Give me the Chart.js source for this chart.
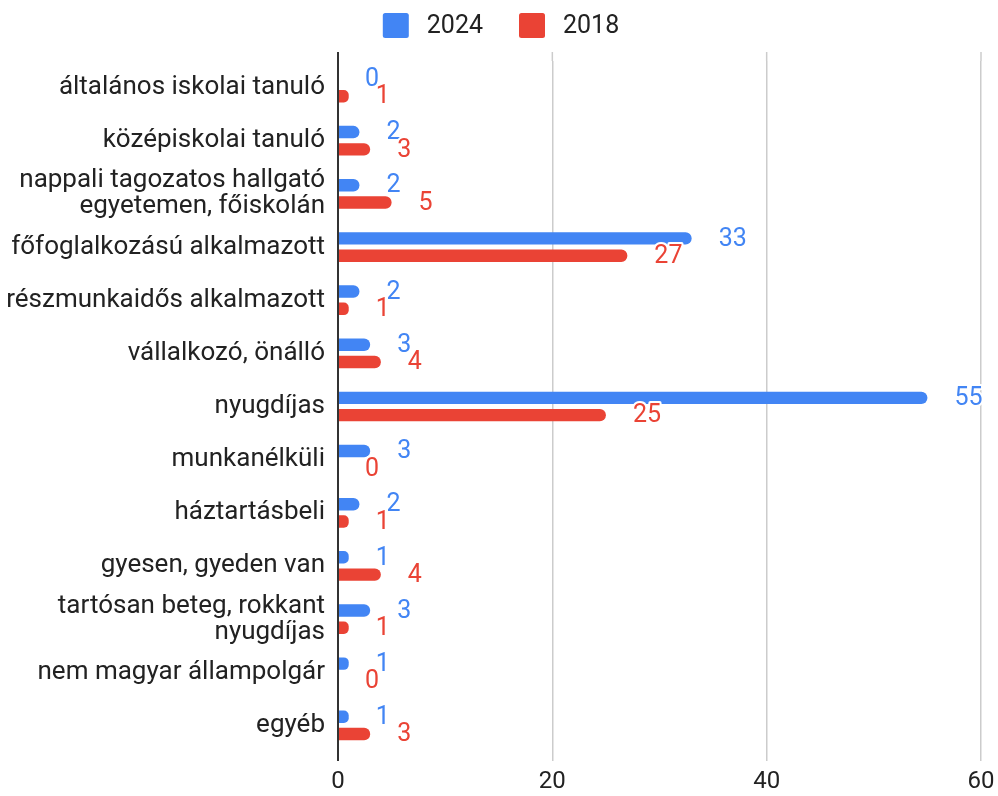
<!DOCTYPE html>
<html>
<head>
<meta charset="utf-8">
<script src="https://cdn.jsdelivr.net/npm/chart.js@4.4.1/dist/chart.umd.min.js"></script>
<style>
html,body{margin:0;padding:0;background:#fff;}
#wrap{width:998px;height:796px;position:relative;}
</style>
</head>
<body>
<div id="wrap"><canvas id="c"></canvas></div>
<script>
const categories = [
  "általános iskolai tanuló",
  "középiskolai tanuló",
  ["nappali tagozatos hallgató", "egyetemen, főiskolán"],
  "főfoglalkozású alkalmazott",
  "részmunkaidős alkalmazott",
  "vállalkozó, önálló",
  "nyugdíjas",
  "munkanélküli",
  "háztartásbeli",
  "gyesen, gyeden van",
  ["tartósan beteg, rokkant", "nyugdíjas"],
  "nem magyar állampolgár",
  "egyéb"
];
const values2024 = [0, 2, 2, 33, 2, 3, 55, 3, 2, 1, 3, 1, 1];
const values2018 = [1, 3, 5, 27, 1, 4, 25, 0, 1, 4, 1, 0, 3];
const seriesNames = ["2024", "2018"];
const xTicks = [0, 20, 40, 60];

const FONT = "Roboto";
const BLUE = "#4285F4";
const RED = "#EA4335";
const TEXT = "#222222";

function roundRect(ctx, x, y, w, h, r) {
  ctx.beginPath();
  ctx.moveTo(x + r, y);
  ctx.arcTo(x + w, y, x + w, y + h, r);
  ctx.arcTo(x + w, y + h, x, y + h, r);
  ctx.arcTo(x, y + h, x, y, r);
  ctx.arcTo(x, y, x + w, y, r);
  ctx.closePath();
}

// Custom legend (centered row at top)
const topLegend = {
  id: "topLegend",
  afterDraw(chart) {
    const ctx = chart.ctx;
    ctx.save();
    ctx.font = "25px " + FONT;
    ctx.textBaseline = "middle";
    ctx.textAlign = "left";
    const box = 26, boxH = 25, gapBT = 18, gapItems = 36;
    const items = chart.data.datasets.map(ds => ({ label: ds.label, color: ds.backgroundColor, w: ctx.measureText(ds.label).width }));
    let total = 0;
    items.forEach((it, i) => { total += box + gapBT + it.w + (i < items.length - 1 ? gapItems : 0); });
    let x = chart.width / 2 - total / 2 + 2;
    const cy = 25.5;
    items.forEach(it => {
      ctx.fillStyle = it.color;
      roundRect(ctx, x, cy - boxH / 2, box, boxH, 2.5);
      ctx.fill();
      x += box + gapBT;
      ctx.fillStyle = TEXT;
      ctx.fillText(it.label, x, cy + 1);
      x += it.w + gapItems;
    });
    ctx.restore();
  }
};

// Gridline extension above the plot area
const gridExtend = {
  id: "gridExtend",
  beforeDatasetsDraw(chart) {
    const ctx = chart.ctx, xs = chart.scales.x, top = chart.chartArea.top;
    ctx.save();
    xs.ticks.forEach(t => {
      const px = xs.getPixelForValue(t.value);
      ctx.beginPath();
      ctx.strokeStyle = t.value === 0 ? "#333" : "#cccccc";
      ctx.lineWidth = t.value === 0 ? 2 : 1.5;
      ctx.moveTo(px, top - 9);
      ctx.lineTo(px, top);
      ctx.stroke();
    });
    ctx.restore();
  }
};

const valueLabels = {
  id: "valueLabels",
  afterDatasetsDraw(chart) {
    const ctx = chart.ctx;
    ctx.save();
    ctx.font = "25px " + FONT;
    ctx.textAlign = "left";
    ctx.textBaseline = "middle";
    chart.data.datasets.forEach((ds, di) => {
      const meta = chart.getDatasetMeta(di);
      meta.data.forEach((el, i) => {
        const txt = String(ds.data[i]);
        const x = el.x + 27, y = el.y + 1;
        ctx.lineWidth = 4;
        ctx.strokeStyle = "#fff";
        ctx.lineJoin = "round";
        ctx.strokeText(txt, x, y);
        ctx.fillStyle = ds.backgroundColor;
        ctx.fillText(txt, x, y);
      });
    });
    ctx.restore();
  }
};

new Chart(document.getElementById("c"), {
  type: "bar",
  data: {
    labels: categories,
    datasets: [
      { label: seriesNames[0], data: values2024, backgroundColor: BLUE, borderRadius: 6, borderSkipped: "start",
        categoryPercentage: 0.65, barPercentage: 0.72 },
      { label: seriesNames[1], data: values2018, backgroundColor: RED, borderRadius: 6, borderSkipped: "start",
        categoryPercentage: 0.65, barPercentage: 0.72 }
    ]
  },
  options: {
    indexAxis: "y",
    responsive: true,
    maintainAspectRatio: false,
    animation: false,
    layout: { padding: { top: 61, right: 17, left: 0, bottom: 0 } },
    plugins: {
      tooltip: { enabled: false },
      legend: { display: false }
    },
    scales: {
      x: {
        min: 0, max: 60,
        afterBuildTicks(scale) { scale.ticks = xTicks.map(v => ({ value: v })); },
        grid: {
          color: ctx => ctx.tick && ctx.tick.value === 0 ? "#333" : "#cccccc",
          lineWidth: ctx => ctx.tick && ctx.tick.value === 0 ? 2 : 1.5,
          drawTicks: true,
          tickLength: 9
        },
        border: { display: false },
        ticks: { font: { family: FONT, size: 24 }, color: TEXT, padding: 7, maxRotation: 0 },
        afterFit(scale) { scale.height = 44; scale.paddingRight = 14; scale.paddingLeft = 7; }
      },
      y: {
        grid: { display: false, drawTicks: false },
        border: { display: false },
        ticks: { font: { family: FONT, size: 26, lineHeight: 1.0 }, color: TEXT, padding: 13, autoSkip: false },
        afterFit(scale) { scale.width = 338; }
      }
    }
  },
  plugins: [gridExtend, valueLabels, topLegend]
});
</script>
</body>
</html>
